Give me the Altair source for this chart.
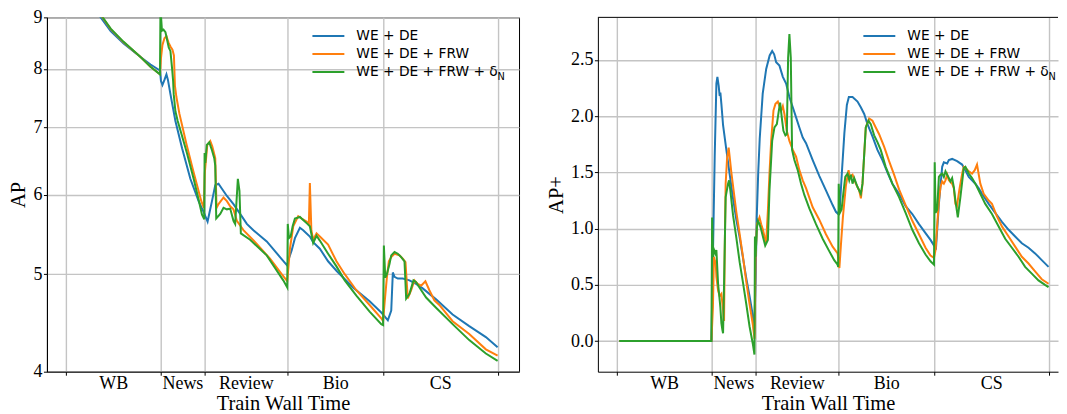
import altair as alt
import pandas as pd

# ---------------- data ----------------
SERIES = ["WE + DE", "WE + DE + FRW", "WE + DE + FRW + δ"]
COLORS = ["#1f77b4", "#ff7f0e", "#2ca02c"]
SUBSCRIPT = ["N"]
SEGMENTS = ["WB", "News", "Review", "Bio", "CS"]
BOUNDS = [0, 95, 139, 222.5, 318.5, 433.5]
AP_TICKS = [4, 5, 6, 7, 8, 9]
APP_TICKS = [0.0, 0.5, 1.0, 1.5, 2.0, 2.5]

# Left panel (AP)
AP_DE_T = [2.5, 15, 25, 35, 45, 58, 75, 85, 94.5,
           95.5, 97, 99, 101, 102.5, 105, 110, 116.7, 125, 133.3, 138.5,
           142.3, 146.7, 150, 153.3, 156.7, 161.7, 168.3, 175, 181.7, 188.3, 201.7, 215, 222.3,
           223.3, 226.7, 230, 235, 238.3, 245, 248.3, 255, 263.3, 271.7, 288.3, 305, 316.7, 318.5,
           321.7, 323.3, 326.7, 328.3, 330, 333.3, 338.3, 345, 351.7, 358.3, 371.7, 388.3, 405, 421.7, 433.5]
AP_DE = [10.6, 9.75, 9.3, 9.0, 8.72, 8.48, 8.22, 8.08, 7.97,
         7.78, 7.71, 7.80, 7.90, 7.80, 7.55, 7.10, 6.67, 6.22, 5.91, 5.76,
         5.64, 5.91, 6.13, 6.15, 6.08, 5.98, 5.87, 5.74, 5.61, 5.53, 5.39, 5.20, 5.10,
         5.16, 5.28, 5.43, 5.56, 5.53, 5.45, 5.38, 5.30, 5.15, 5.04, 4.85, 4.70, 4.58, 4.56,
         4.52, 4.50, 4.60, 5.02, 4.97, 4.95, 4.95, 4.93, 4.89, 4.84, 4.72, 4.56, 4.44, 4.33, 4.23]

AP_FRW_T = [2.5, 15, 25, 35, 45, 58, 75, 85, 94.5,
            95.5, 97, 99, 101, 103, 105, 107, 108.5, 109.5, 111, 114, 121, 128, 136, 138.5,
            139.5, 142, 145, 147, 150, 151.3, 153.3, 158.3, 161.7, 165, 168.3, 171.7, 178.3, 191.7, 205, 216.7, 222.3,
            225, 228.3, 233.3, 236.7, 241.7, 244, 245, 246.5, 248.3, 251.7, 255, 263.3, 271.7, 280, 291.7, 305, 316.7, 318.5,
            320, 322.3, 324.3, 326.7, 330, 335, 338.3, 341, 343.3, 346.7, 350, 353.3, 356.7, 361, 365, 370, 375, 388.3, 405, 421.7, 433.5]
AP_FRW = [10.6, 9.8, 9.35, 9.05, 8.76, 8.5, 8.22, 8.04, 7.90,
          8.2, 8.45, 8.58, 8.62, 8.5, 8.42, 8.36, 8.25, 7.7, 7.5, 7.22, 6.74, 6.33, 5.91, 5.82,
          6.3, 6.72, 6.78, 6.7, 6.52, 5.82, 5.87, 5.96, 5.91, 5.84, 5.80, 5.65, 5.53, 5.36, 5.18, 5.00, 4.92,
          5.30, 5.58, 5.71, 5.68, 5.64, 5.61, 6.16, 5.53, 5.41, 5.49, 5.45, 5.35, 5.15, 5.00, 4.82, 4.66, 4.52, 4.49,
          4.68, 4.96, 5.15, 5.20, 5.24, 5.22, 5.18, 5.14, 4.73, 4.82, 4.93, 4.89, 4.87, 4.92, 4.82, 4.71, 4.66, 4.49, 4.36, 4.21, 4.15]

AP_DN_T = [2.5, 15, 25, 35, 45, 58, 75, 85, 94.5,
           95, 96.5, 98, 100, 103.3, 105, 106.7, 107.7, 108.3, 110, 112.3, 115, 121.7, 128.3, 133.3, 136.7, 139,
           139.3, 140, 141.5, 144, 146.7, 149, 150, 151, 155, 158.3, 161.7, 165, 168.3, 170, 172.7, 174.3, 175.7, 185, 201.7, 218.3, 222.3,
           222.8, 224, 225.7, 227.7, 230, 235, 238.3, 241.7, 245, 248.3, 251.7, 255, 263.3, 271.7, 280, 291.7, 305, 316.7, 318.5,
           319.3, 320.7, 322.3, 325, 326.7, 330, 333.3, 336.7, 340, 341.7, 345, 349, 351.7, 355, 361.7, 371.7, 388.3, 405, 421.7, 433.5]
AP_DN = [10.6, 9.8, 9.35, 9.06, 8.77, 8.51, 8.22, 8.04, 7.90,
         9.2, 8.73, 8.75, 8.70, 8.40, 8.33, 8.0, 7.78, 7.55, 7.26, 7.10, 6.95, 6.59, 6.22, 5.93, 5.73, 5.67,
         6.6, 6.45, 6.72, 6.76, 6.64, 6.52, 6.41, 5.68, 5.74, 5.82, 5.80, 5.81, 5.65, 5.61, 6.22, 6.05, 5.49, 5.41, 5.22, 4.93, 4.85,
         5.61, 5.43, 5.45, 5.58, 5.68, 5.70, 5.66, 5.62, 5.58, 5.37, 5.46, 5.40, 5.24, 5.09, 4.93, 4.76, 4.59, 4.46, 4.45,
         5.34, 4.96, 5.00, 5.12, 5.22, 5.26, 5.24, 5.20, 5.15, 4.73, 4.78, 4.93, 4.91, 4.85, 4.74, 4.63, 4.46, 4.30, 4.17, 4.10]

# Right panel (AP+)
APP_DE_T = [2.5, 95, 96, 97, 98.3, 100, 101, 102.3, 103.3, 104, 105, 106.7, 110, 113.4, 116.7, 120, 123.4, 126.7, 130, 133.3, 136.7, 138,
            139.5, 140.5, 142, 143.5, 146.5, 150, 153.5, 156, 158, 160, 163.3, 166.7, 170, 173.3, 176.7, 180, 183.3, 186.7, 190, 196.7, 203.3, 210, 216.7, 220, 222.3,
            224, 226, 228.5, 231, 233, 236.7, 241.7, 245, 248.4, 251.7, 256.7, 261.7, 266.7, 271.7, 276.7, 283.4, 290, 296.7, 303.4, 310, 315, 318.5,
            320.5, 323.4, 326.7, 328.4, 331.7, 333.4, 336.7, 341.7, 346.7, 350, 353.4, 356.7, 360, 363.4, 366.7, 373.4, 380, 386.7, 393.4, 400, 406.7, 413.4, 420, 426.7, 433.5]
APP_DE = [0, 0, 0.5, 1.0, 1.64, 2.29, 2.35, 2.27, 2.18, 2.21, 2.11, 1.92, 1.70, 1.48, 1.27, 1.08, 0.92, 0.74, 0.56, 0.40, 0.22, 0.06,
          0.6, 1.1, 1.5, 1.8, 2.2, 2.42, 2.54, 2.58, 2.55, 2.48, 2.45, 2.35, 2.29, 2.17, 2.08, 1.99, 1.90, 1.81, 1.76, 1.61, 1.47, 1.34, 1.21, 1.15, 1.13,
          1.20, 1.50, 1.85, 2.10, 2.17, 2.17, 2.13, 2.08, 2.02, 1.93, 1.82, 1.70, 1.61, 1.50, 1.40, 1.31, 1.20, 1.13, 1.04, 0.96, 0.90, 0.85,
          0.83, 1.22, 1.55, 1.59, 1.58, 1.61, 1.62, 1.60, 1.57, 1.52, 1.46, 1.43, 1.40, 1.36, 1.31, 1.22, 1.14, 1.06, 0.99, 0.93, 0.87, 0.83, 0.78, 0.72, 0.66]

APP_FRW_T = [2.5, 95, 96.5, 97.5, 98.3, 99.3, 100, 101.7, 103.3, 105, 106.7, 107.7, 108.3, 109.3, 110.7, 112.3, 113.3, 115, 116.7, 120, 123.4, 126.7, 130, 133.3, 136.7, 138.3,
             139.3, 140.7, 143.3, 145, 146.7, 148.3, 150, 151.7, 153.3, 155, 157.3, 159.3, 161.7, 163.3, 165, 166.7, 168.3, 170.7, 173.3, 176.7, 180, 183.3, 186.7, 190, 196.7, 203.3, 210, 216.7, 221.7,
             223.5, 225, 227, 230, 232.7, 234, 236.7, 240, 243.4, 245.1, 246.7, 250, 253.4, 256.7, 260, 263.4, 268.4, 273.4, 278.4, 283.4, 290, 296.7, 303.4, 310, 315, 318.5,
             320, 323.4, 325, 326.7, 328.4, 330, 331.7, 333.4, 336.7, 338.4, 340, 341.5, 344, 347, 348.4, 350, 353.4, 356.7, 359.4, 361.7, 365, 368.4, 373.4, 376.7, 381.7, 386.7, 393.4, 400, 406.7, 413.4, 420, 426.7, 433.5]
APP_FRW = [0, 0, 0.30, 0.75, 0.72, 0.70, 0.57, 0.45, 0.40, 0.42, 0.28, 0.18, 0.75, 1.40, 1.62, 1.72, 1.64, 1.50, 1.38, 1.15, 0.95, 0.75, 0.53, 0.33, 0.14, 0.02,
           0.75, 1.04, 1.10, 1.04, 0.99, 0.93, 0.88, 1.16, 1.49, 1.78, 2.05, 2.11, 2.13, 2.09, 2.05, 2.09, 2.02, 1.87, 1.78, 1.70, 1.64, 1.52, 1.43, 1.36, 1.19, 1.08, 0.95, 0.84, 0.78,
           0.65, 0.85, 1.10, 1.38, 1.52, 1.46, 1.48, 1.40, 1.34, 1.27, 1.40, 1.90, 1.98, 1.96, 1.90, 1.84, 1.73, 1.60, 1.48, 1.35, 1.21, 1.07, 0.95, 0.83, 0.76, 0.74,
           0.81, 1.25, 1.37, 1.42, 1.40, 1.43, 1.48, 1.43, 1.40, 1.36, 1.22, 1.20, 1.35, 1.50, 1.55, 1.54, 1.51, 1.49, 1.52, 1.57, 1.40, 1.31, 1.25, 1.22, 1.11, 1.02, 0.93, 0.84, 0.75, 0.69, 0.62, 0.55, 0.51]

APP_DN_T = [2.5, 95, 95.7, 96.7, 97.7, 99, 100, 101.7, 102.7, 104, 105, 106, 106.7, 107.7, 109.3, 111.7, 112.7, 114, 116.7, 120, 123.4, 126.7, 130, 133.3, 136.7, 138.2,
            138.7, 139.3, 140.7, 141.7, 143.3, 145, 146.7, 149, 151.7, 153.3, 156, 158.3, 160.7, 162.7, 164, 166, 167.3, 169.3, 170.7, 172, 173.3, 174.7, 176, 178.3, 181.7, 185, 188.3, 193.3, 200, 206.7, 213.3, 218.3, 221.7,
            222.3, 222.8, 224, 225.7, 227.4, 229.4, 231.7, 233.4, 235, 236.7, 238.4, 241.7, 245, 246.7, 250, 252.7, 255, 258.4, 261.7, 265, 270, 276.7, 283.4, 290, 296.7, 303.4, 310, 315, 318.5,
            319.2, 320.1, 321.7, 323.4, 325, 326.7, 328.4, 330, 331.7, 333.4, 335, 336.7, 338.4, 340, 342.4, 345, 348.4, 350, 353.4, 356.7, 360, 365, 370, 376.7, 383.4, 390, 396.7, 403.4, 410, 416.7, 423.4, 430, 433.5]
APP_DN = [0, 0, 1.10, 0.75, 0.81, 0.78, 0.81, 0.51, 0.42, 0.30, 0.16, 0.10, 0.07, 0.51, 1.28, 1.40, 1.43, 1.34, 1.12, 0.92, 0.70, 0.52, 0.33, 0.13, -0.03, -0.12,
          0.93, 0.75, 1.01, 1.07, 1.04, 0.99, 0.93, 0.85, 0.90, 1.34, 1.78, 1.90, 1.93, 2.05, 2.12, 1.96, 1.87, 1.83, 1.84, 2.52, 2.73, 2.52, 1.70, 1.61, 1.52, 1.40, 1.30, 1.18, 1.04, 0.91, 0.80, 0.72, 0.68,
          0.66, 1.40, 1.14, 1.17, 1.31, 1.46, 1.49, 1.43, 1.48, 1.40, 1.45, 1.37, 1.31, 1.40, 1.90, 1.96, 1.93, 1.83, 1.77, 1.70, 1.55, 1.40, 1.28, 1.14, 0.99, 0.87, 0.77, 0.71, 0.68,
          1.59, 1.14, 1.17, 1.46, 1.48, 1.49, 1.46, 1.51, 1.48, 1.45, 1.42, 1.45, 1.37, 1.25, 1.10, 1.28, 1.54, 1.55, 1.49, 1.45, 1.40, 1.31, 1.22, 1.13, 1.02, 0.91, 0.83, 0.75, 0.66, 0.60, 0.54, 0.50, 0.48]


def build(ts, vs):
    parts = [pd.DataFrame({"t": t, "v": v, "series": s}) for s, t, v in zip(SERIES, ts, vs)]
    return pd.concat(parts, ignore_index=True)


df_ap = build([AP_DE_T, AP_FRW_T, AP_DN_T], [AP_DE, AP_FRW, AP_DN])
df_app = build([APP_DE_T, APP_FRW_T, APP_DN_T], [APP_DE, APP_FRW, APP_DN])

# ---------------- layout ----------------
H = 355
W_L = 473
W_R = 461
XDOM_L = [-19, 455]
XDOM_R = [-19, 443]

mids = [(a + b) / 2 for a, b in zip(BOUNDS[:-1], BOUNDS[1:])]
label_expr = "".join(f"datum.value == {m} ? '{s}' : " for m, s in zip(mids, SEGMENTS)) + "''"
bounds_js = "[" + ",".join(str(b) for b in BOUNDS) + "]"
is_bound = f"indexof({bounds_js}, datum.value) >= 0"


def x_axis():
    return alt.Axis(
        values=sorted(BOUNDS + mids),
        labelExpr=label_expr,
        title="Train Wall Time",
        grid=True,
        gridOpacity={"condition": {"test": is_bound, "value": 1}, "value": 0},
        tickOpacity={"condition": {"test": is_bound, "value": 1}, "value": 0},
        tickSize=3.5,
        labelPadding=-0.8,
        titlePadding=1,
        labelFlush=False,
        labelOverlap=False,
    )


def legend():
    return alt.Legend(
        title=None, orient="none", legendX=265, legendY=9.7, direction="vertical",
        symbolType="stroke", symbolSize=1024, symbolStrokeWidth=2,
        labelFont="DejaVu Sans", labelFontSize=13.8, labelColor="black",
        labelOffset=11, padding=0, rowPadding=0, clipHeight=18, symbolOffset=0,
        labelLimit=400,
    )


def color_enc():
    return alt.Color("series:N", scale=alt.Scale(domain=SERIES, range=COLORS),
                     sort=SERIES, legend=legend())


def sub_text():
    return alt.Chart(pd.DataFrame({"s": SUBSCRIPT})).mark_text(
        font="DejaVu Sans", fontSize=9.8, align="left", baseline="alphabetic", color="black"
    ).encode(x=alt.value(451.5), y=alt.value(63), text="s:N")


left_lines = alt.Chart(df_ap).mark_line(strokeWidth=2, clip=True).encode(
    x=alt.X("t:Q", scale=alt.Scale(domain=XDOM_L, nice=False, zero=False), axis=x_axis()),
    y=alt.Y("v:Q", scale=alt.Scale(type="log", domain=[4, 9], nice=False),
            axis=alt.Axis(values=AP_TICKS, format="d", title="AP", grid=True, tickSize=3.5,
                          labelPadding=1.5, titlePadding=4, labelFlush=False, labelOverlap=False)),
    color=color_enc(),
)
left = alt.layer(left_lines, sub_text()).properties(width=W_L, height=H)

right_lines = alt.Chart(df_app).mark_line(strokeWidth=2, clip=True).encode(
    x=alt.X("t:Q", scale=alt.Scale(domain=XDOM_R, nice=False, zero=False), axis=x_axis()),
    y=alt.Y("v:Q", scale=alt.Scale(domain=[-0.272, 2.879], nice=False, zero=False),
            axis=alt.Axis(values=APP_TICKS, format=".1f", title="AP+", grid=True, tickSize=3.5,
                          labelPadding=1.5, titlePadding=4, labelFlush=False, labelOverlap=False)),
    color=color_enc(),
)
top_spine = alt.Chart(pd.DataFrame({"s": [0]})).mark_rule(color="black", strokeWidth=1).encode(
    x=alt.value(0), x2=alt.value(W_R), y=alt.value(0)
)
right = alt.layer(right_lines, sub_text(), top_spine).properties(
    width=W_R, height=H, view=alt.ViewBackground(stroke="transparent")
)

chart = (
    alt.hconcat(left, right, spacing=26)
    .resolve_legend(color="independent")
    .properties(padding={"left": 0, "top": -1, "right": 0, "bottom": 0}, background="white")
    .configure_axis(
        labelFont="Liberation Serif", titleFont="Liberation Serif",
        labelFontSize=18, titleFontSize=20.5, titleFontWeight="normal",
        labelColor="black", titleColor="black",
        domainColor="black", domainWidth=1, tickColor="black", tickWidth=1,
        gridColor="#c4c4c4", gridWidth=1.4,
    )
    .configure_view(stroke="black", strokeWidth=1)
)

chart.save("out.html", embed_options={"renderer": "svg", "actions": False})
